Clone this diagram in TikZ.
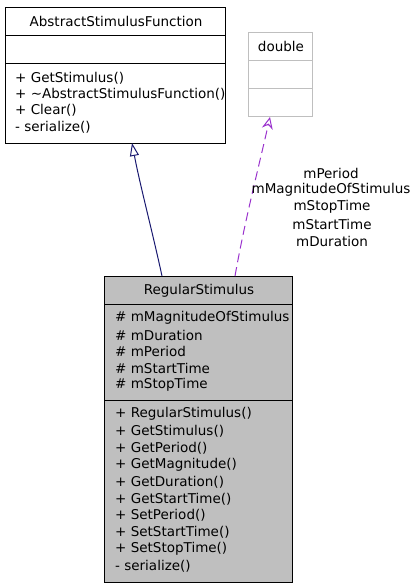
\documentclass[tikz,border=0pt]{standalone}
\usepackage{fontspec}
\setmainfont{DejaVu Sans}
\usetikzlibrary{arrows.meta}
\definecolor{edgeblue}{HTML}{191970}
\definecolor{edgepurple}{HTML}{9A32CD}
\definecolor{boxgray}{HTML}{BFBFBF}
\definecolor{lightframe}{HTML}{BFBFBF}
\begin{document}
\begin{tikzpicture}[x=1pt,y=-1pt,
  every node/.style={font=\fontsize{13.5}{15}\selectfont, inner sep=0pt},
  classbox/.style={draw=black, line width=1pt, anchor=north west, inner sep=0pt},
  member/.style={anchor=west},
  title/.style={anchor=center},
  lbl/.style={anchor=center}]
\useasboundingbox (0,0) rectangle (411,587);

% AbstractStimulusFunction
\node[classbox, fill=white, minimum width=220pt, minimum height=136pt] (asf) at (5,7) {};
\draw[line width=1pt] (5,35) -- (225,35);
\draw[line width=1pt] (5,63) -- (225,63);
\node[title] (asft) at (116,21) {AbstractStimulusFunction};
\node[member] (asf1) at (15,78) {+ GetStimulus()};
\node[member] (asf2) at (15,94) {+ {\char"7E}AbstractStimulusFunction()};
\node[member] (asf3) at (15,110) {+ Clear()};
\node[member] (asf4) at (15,127) {- serialize()};

% double
\node[classbox, draw=lightframe, fill=white, minimum width=64pt, minimum height=84pt] (dbl) at (248,32) {};
\draw[lightframe, line width=1pt] (248,60) -- (312,60);
\draw[lightframe, line width=1pt] (248,88) -- (312,88);
\node[title] (dblt) at (281,46) {double};

% RegularStimulus
\node[classbox, fill=boxgray, minimum width=188pt, minimum height=306pt] (rs) at (104,276) {};
\draw[line width=1pt] (104,304) -- (292,304);
\draw[line width=1pt] (104,400) -- (292,400);
\node[title] (rst) at (199,291) {RegularStimulus};
\node[member] (a1) at (115,318) {\# mMagnitudeOfStimulus};
\node[member] (a2) at (115,335) {\# mDuration};
\node[member] (a3) at (115,351) {\# mPeriod};
\node[member] (a4) at (115,368) {\# mStartTime};
\node[member] (a5) at (115,385) {\# mStopTime};
\node[member] (m1) at (115,414) {+ RegularStimulus()};
\node[member] (m2) at (115,431) {+ GetStimulus()};
\node[member] (m3) at (115,448) {+ GetPeriod()};
\node[member] (m4) at (115,465) {+ GetMagnitude()};
\node[member] (m5) at (115,482) {+ GetDuration()};
\node[member] (m6) at (115,499) {+ GetStartTime()};
\node[member] (m7) at (115,515) {+ SetPeriod()};
\node[member] (m8) at (115,532) {+ SetStartTime()};
\node[member] (m9) at (115,549) {+ SetStopTime()};
\node[member] (m10) at (115,566) {- serialize()};

% connectors
\coordinate (inhS) at (162,276);
\coordinate (inhT) at (132,143);
\draw[edgeblue, line width=1pt, -{Triangle[open, length=13pt, width=9pt]}]
  (inhS) .. controls (152,230) and (140,185) .. (inhT);

\coordinate (useS) at (235,276);
\coordinate (useT) at (270,117);
\draw[edgepurple, line width=1pt, dash pattern=on 9pt off 5pt, -{Stealth[open, length=12pt, width=11pt, inset=4pt]}]
  (useS) .. controls (245,220) and (258,170) .. (useT);

\node[lbl] (l1) at (331,173) {mPeriod};
\node[lbl] (l2) at (331,190) {mMagnitudeOfStimulus};
\node[lbl] (l3) at (332,207) {mStopTime};
\node[lbl] (l4) at (332,224) {mStartTime};
\node[lbl] (l5) at (332,241) {mDuration};
\end{tikzpicture}
\end{document}
